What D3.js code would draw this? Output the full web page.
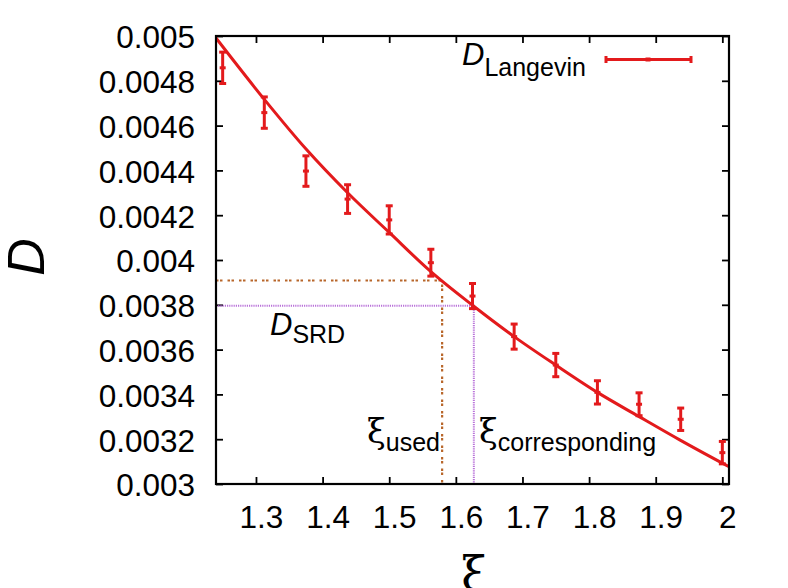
<!DOCTYPE html>
<html>
<head>
<meta charset="utf-8">
<script src="https://cdn.jsdelivr.net/npm/d3@7"></script>
<style>
  body { margin: 0; background: #fff; }
  text { font-family: "Liberation Sans", Arial, sans-serif; }
</style>
</head>
<body>
<script>
// measured points (Langevin simulation)
const xi = [1.25, 1.3125, 1.375, 1.4375, 1.5, 1.5625, 1.625, 1.6875, 1.75, 1.8125, 1.875, 1.9375, 2.0];
const dLangevin = [0.004858, 0.004658, 0.004397, 0.004272, 0.004179, 0.003988, 0.003839,
                   0.003658, 0.003531, 0.003409, 0.003356, 0.003289, 0.003140];
const dErr = [0.00007, 0.00007, 0.000068, 0.000064, 0.000063, 0.00006, 0.000056,
              0.000056, 0.000052, 0.000052, 0.000051, 0.00005, 0.00005];

// fitted curve
const fitXi = [1.24, 1.3125, 1.3755, 1.4375, 1.5, 1.5625, 1.625, 1.6875, 1.75, 1.8125, 1.875, 1.936, 2.01];
const fitD = [0.004991, 0.004717, 0.004494, 0.004300, 0.004123, 0.003948, 0.003798,
              0.003658, 0.003531, 0.003409, 0.003301, 0.003197, 0.003077];

// reference lines
const xiUsed = 1.5794, dUsed = 0.0039085;
const xiCorr = 1.627, dSRD = 0.003796;

const xTicks = [1.3, 1.4, 1.5, 1.6, 1.7, 1.8, 1.9, 2.0];
const yTicks = [0.003, 0.0032, 0.0034, 0.0036, 0.0038, 0.004, 0.0042, 0.0044, 0.0046, 0.0048, 0.005];

const width = 788, height = 588;
const marginTop = 36, marginRight = 59, marginBottom = 104, marginLeft = 216;
const red = "#e31a1c";

const svg = d3.select("body").append("svg")
  .attr("width", width)
  .attr("height", height);

svg.append("rect").attr("width", width).attr("height", height).attr("fill", "white");

const x = d3.scaleLinear().domain([1.24, 2.01]).range([marginLeft, width - marginRight]);
const y = d3.scaleLinear().domain([0.003, 0.005]).range([height - marginBottom, marginTop]);

svg.append("clipPath").attr("id", "plot")
  .append("rect")
  .attr("x", marginLeft).attr("y", marginTop)
  .attr("width", width - marginLeft - marginRight)
  .attr("height", height - marginTop - marginBottom);

// axes, ticks pointing inward on all four sides
const fmt = d3.format("");
const gx = svg.append("g")
  .attr("transform", "translate(0," + (height - marginBottom) + ")")
  .call(d3.axisBottom(x).tickValues(xTicks).tickSize(-7).tickFormat(fmt));
gx.selectAll("text").attr("y", 44).attr("dy", 0).attr("x", 5);

svg.append("g")
  .attr("transform", "translate(0," + marginTop + ")")
  .call(d3.axisTop(x).tickValues(xTicks).tickSize(-7).tickFormat(""));

const gy = svg.append("g")
  .attr("transform", "translate(" + marginLeft + ",0)")
  .call(d3.axisLeft(y).tickValues(yTicks).tickSize(-7).tickFormat(fmt));
gy.selectAll("text").attr("x", -21).attr("dy", "0.38em");

svg.append("g")
  .attr("transform", "translate(" + (width - marginRight) + ",0)")
  .call(d3.axisRight(y).tickValues(yTicks).tickSize(-7).tickFormat(""));

svg.selectAll(".domain").remove();
svg.selectAll(".tick line").attr("stroke", "#000").attr("stroke-width", 1.8);
svg.selectAll(".tick text")
  .attr("fill", "#000")
  .style("font-size", "31.5px")
  .style("font-family", "'Liberation Sans', Arial, sans-serif");

// reference lines
const line = d3.line().x(d => x(d[0])).y(d => y(d[1]));
svg.append("path")
  .attr("d", line([[1.24, dUsed], [xiUsed, dUsed], [xiUsed, 0.003]]))
  .attr("fill", "none")
  .attr("stroke", "#b8662a")
  .attr("stroke-width", 2.2)
  .attr("stroke-dasharray", "2.5,1.5,2.5,5");
svg.append("path")
  .attr("d", line([[1.24, dSRD], [xiCorr, dSRD], [xiCorr, 0.003]]))
  .attr("fill", "none")
  .attr("stroke", "#b972d9")
  .attr("stroke-width", 2)
  .attr("stroke-dasharray", "1.2,1");

// fit curve
svg.append("path")
  .attr("clip-path", "url(#plot)")
  .attr("d", d3.line().curve(d3.curveMonotoneX)
    .x((d, i) => x(fitXi[i])).y(d => y(d))(fitD))
  .attr("fill", "none")
  .attr("stroke", red)
  .attr("stroke-width", 3);

// error bars
const bars = svg.append("g").attr("stroke", red).attr("stroke-width", 3);
xi.forEach((v, i) => {
  const cx = x(v), y0 = y(dLangevin[i] - dErr[i]), y1 = y(dLangevin[i] + dErr[i]);
  bars.append("line").attr("x1", cx).attr("x2", cx).attr("y1", y0).attr("y2", y1);
  bars.append("line").attr("x1", cx - 3.5).attr("x2", cx + 3.5).attr("y1", y0).attr("y2", y0);
  bars.append("line").attr("x1", cx - 3.5).attr("x2", cx + 3.5).attr("y1", y1).attr("y2", y1);
  bars.append("rect").attr("x", cx - 3).attr("y", y(dLangevin[i]) - 1.5)
    .attr("width", 6).attr("height", 3).attr("fill", red).attr("stroke", "none");
});

// frame
svg.append("rect")
  .attr("x", marginLeft).attr("y", marginTop)
  .attr("width", width - marginLeft - marginRight)
  .attr("height", height - marginTop - marginBottom)
  .attr("fill", "none").attr("stroke", "#000").attr("stroke-width", 2.2);

// legend
const lg = svg.append("g").attr("stroke", red).attr("stroke-width", 3);
lg.append("line").attr("x1", 606).attr("x2", 691).attr("y1", 59.5).attr("y2", 59.5);
lg.append("line").attr("x1", 606).attr("x2", 606).attr("y1", 56).attr("y2", 63);
lg.append("line").attr("x1", 691).attr("x2", 691).attr("y1", 56).attr("y2", 63);
lg.append("rect").attr("x", 645.5).attr("y", 57.5).attr("width", 5).attr("height", 4)
  .attr("fill", red).attr("stroke", "none");

function label(px, py, main, sub, subDy, italic, symbol) {
  const t = svg.append("text").attr("x", px).attr("y", py).attr("fill", "#000");
  t.append("tspan").text(main)
    .style("font-size", symbol ? "34px" : "31px")
    .style("font-style", italic ? "italic" : "normal")
    .style("font-family", symbol ? "'DejaVu Serif', serif" : null);
  t.append("tspan").text(sub).attr("dy", subDy).style("font-size", "25px");
}
label(462, 65, "D", "Langevin", 11, true, false);
label(270, 335, "D", "SRD", 8, true, false);
label(367, 443, "ξ", "used", 8, false, true);
label(479, 443, "ξ", "corresponding", 8, false, true);

// axis titles
svg.append("text")
  .attr("transform", "translate(44,257) rotate(-90)")
  .attr("text-anchor", "middle")
  .style("font-size", "52px")
  .style("font-style", "italic")
  .text("D");

svg.append("text")
  .attr("x", 474).attr("y", 590)
  .attr("text-anchor", "middle")
  .style("font-size", "46px")
  .style("font-family", "'DejaVu Serif', serif")
  .text("ξ");
</script>
</body>
</html>
